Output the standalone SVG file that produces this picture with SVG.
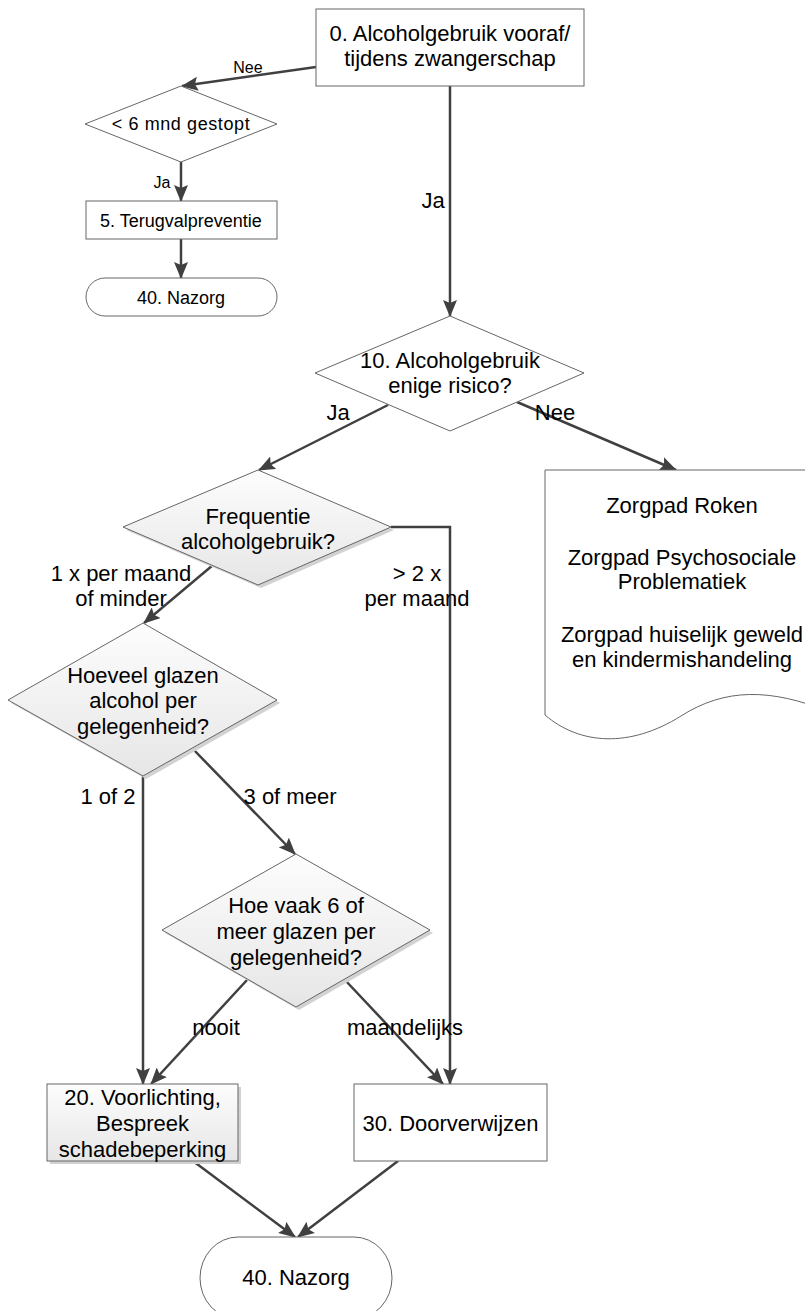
<svg xmlns="http://www.w3.org/2000/svg" width="805" height="1311" viewBox="0 0 805 1311">
<style>
.shape{stroke:#666;stroke-width:1;}
.plain{fill:#fff;}
.grad{fill:url(#g);}
.shadow{fill:#d2d2d2;stroke:none;}
.t{font-family:"Liberation Sans",Arial,sans-serif;fill:#000;text-anchor:middle;}
.t22{font-size:22px;}
.t18{font-size:18px;}
.t16{font-size:16px;}
.conn{fill:none;stroke:#404040;stroke-width:2.5;marker-end:url(#ah);}
</style>
<defs>
<linearGradient id="g" x1="0" y1="0" x2="0" y2="1">
<stop offset="0" stop-color="#fdfdfd"/>
<stop offset="1" stop-color="#e6e6e6"/>
</linearGradient>
<marker id="ah" viewBox="0 0 17 14" refX="16" refY="7" markerWidth="17" markerHeight="14" markerUnits="userSpaceOnUse" orient="auto">
<path d="M0,0 L17,7 L0,14 L3,7 z" fill="#404040"/>
</marker>
</defs>
<rect width="805" height="1311" fill="#fff"/>

<g id="connectors">
<line class="conn" x1="316" y1="67" x2="182" y2="86"/>
<line class="conn" x1="181" y1="162" x2="181" y2="201"/>
<line class="conn" x1="181" y1="239" x2="181" y2="278"/>
<line class="conn" x1="450" y1="86" x2="450" y2="316"/>
<line class="conn" x1="388" y1="405" x2="259" y2="470"/>
<line class="conn" x1="517" y1="402" x2="676" y2="470"/>
<polyline class="conn" points="391,527 450,527 450,1084"/>
<line class="conn" x1="213" y1="565" x2="144" y2="623"/>
<line class="conn" x1="143" y1="776" x2="143" y2="1084"/>
<line class="conn" x1="192" y1="748" x2="295" y2="854"/>
<line class="conn" x1="247" y1="980" x2="151" y2="1084"/>
<line class="conn" x1="345" y1="980" x2="443" y2="1084"/>
<line class="conn" x1="193" y1="1161" x2="295" y2="1237"/>
<line class="conn" x1="398" y1="1161" x2="298" y2="1237"/>
</g>

<g id="labels">
<text class="t t16" x="248" y="73">Nee</text>
<text class="t t16" x="162" y="188">Ja</text>
<text class="t t22" x="433" y="208">Ja</text>
<text class="t t22" x="338" y="420">Ja</text>
<text class="t t22" x="555" y="420">Nee</text>
<text class="t t22" x="121" y="581">1 x per maand</text>
<text class="t t22" x="121" y="606">of minder</text>
<text class="t t22" x="417" y="581">&gt; 2 x</text>
<text class="t t22" x="417" y="606">per maand</text>
<text class="t t22" x="108" y="804">1 of 2</text>
<text class="t t22" x="290" y="804">3 of meer</text>
<text class="t t22" x="216" y="1035">nooit</text>
<text class="t t22" x="405" y="1035">maandelijks</text>
</g>

<g id="n0">
<rect class="shape plain" x="316" y="9" width="268" height="77"/>
<text class="t t22" x="450" y="41">0. Alcoholgebruik vooraf/</text>
<text class="t t22" x="450" y="66">tijdens zwangerschap</text>
</g>

<g id="n_gestopt">
<polygon class="shape plain" points="181,86 277,124 181,162 85,124"/>
<text class="t t18" x="181" y="130" letter-spacing="0.6">&lt; 6 mnd gestopt</text>
</g>

<g id="n5">
<rect class="shape plain" x="86" y="201" width="191" height="38"/>
<text class="t t18" x="181" y="227">5. Terugvalpreventie</text>
</g>

<g id="n40a">
<rect class="shape plain" x="86" y="278" width="191" height="38" rx="19" ry="19"/>
<text class="t t18" x="181" y="304">40. Nazorg</text>
</g>

<g id="n10">
<polygon class="shape plain" points="450,316 584,373 450,431 315,373"/>
<text class="t t22" x="450" y="368">10. Alcoholgebruik</text>
<text class="t t22" x="450" y="393">enige risico?</text>
</g>

<g id="n_zorgpaden">
<path class="shape plain" d="M545,470 H830 V712 C770,688 725,688 681,716 C630,748 580,745 545,715 Z"/>
<text class="t t22" x="682" y="513">Zorgpad Roken</text>
<text class="t t22" x="682" y="565">Zorgpad Psychosociale</text>
<text class="t t22" x="682" y="589">Problematiek</text>
<text class="t t22" x="682" y="642">Zorgpad huiselijk geweld</text>
<text class="t t22" x="682" y="667">en kindermishandeling</text>
</g>

<g id="n_frequentie">
<polygon class="shadow" points="261,473 394,530 261,588 126,530"/>
<polygon class="shape grad" points="258,470 391,527 258,585 123,527"/>
<text class="t t22" x="258" y="524">Frequentie</text>
<text class="t t22" x="258" y="549">alcoholgebruik?</text>
</g>

<g id="n_hoeveel">
<polygon class="shadow" points="146,626 280,703 146,779 11,703"/>
<polygon class="shape grad" points="143,623 277,700 143,776 8,700"/>
<text class="t t22" x="143" y="683">Hoeveel glazen</text>
<text class="t t22" x="143" y="708">alcohol per</text>
<text class="t t22" x="143" y="734">gelegenheid?</text>
</g>

<g id="n_hoevaak">
<polygon class="shadow" points="299,857 433,933 299,1010 165,933"/>
<polygon class="shape grad" points="296,854 430,930 296,1007 162,930"/>
<text class="t t22" x="296" y="913">Hoe vaak 6 of</text>
<text class="t t22" x="296" y="939">meer glazen per</text>
<text class="t t22" x="296" y="965">gelegenheid?</text>
</g>

<g id="n20">
<rect class="shadow" x="50" y="1087" width="191" height="77"/>
<rect class="shape grad" x="47" y="1084" width="191" height="77"/>
<text class="t t22" x="142.5" y="1105">20. Voorlichting,</text>
<text class="t t22" x="142.5" y="1131">Bespreek</text>
<text class="t t22" x="142.5" y="1157">schadebeperking</text>
</g>

<g id="n30">
<rect class="shape plain" x="354" y="1084" width="193" height="77"/>
<text class="t t22" x="450.5" y="1131">30. Doorverwijzen</text>
</g>

<g id="n40b">
<rect class="shape plain" x="200" y="1237" width="192" height="82" rx="38" ry="41"/>
<text class="t t22" x="296" y="1285">40. Nazorg</text>
</g>
</svg>
